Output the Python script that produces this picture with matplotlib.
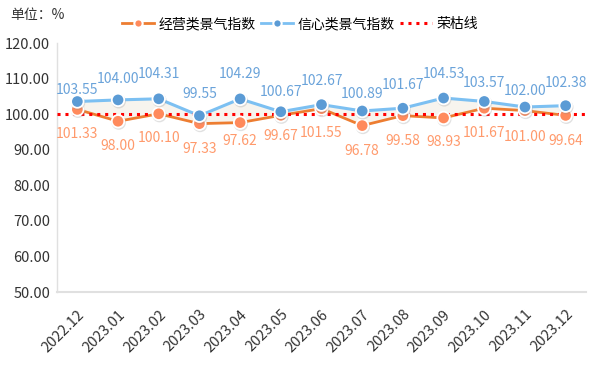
import matplotlib
matplotlib.use("Agg")
import matplotlib.pyplot as plt
import matplotlib.patheffects as pe
from matplotlib.lines import Line2D

plt.rcParams['font.family'] = ['Noto Sans CJK SC', 'DejaVu Sans']

months = ["2022.12", "2023.01", "2023.02", "2023.03", "2023.04", "2023.05", "2023.06",
          "2023.07", "2023.08", "2023.09", "2023.10", "2023.11", "2023.12"]
business = [101.33, 98.00, 100.10, 97.33, 97.62, 99.67, 101.55, 96.78, 99.58, 98.93, 101.67, 101.00, 99.64]
confidence = [103.55, 104.00, 104.31, 99.55, 104.29, 100.67, 102.67, 100.89, 101.67, 104.53, 103.57, 102.00, 102.38]
boom_line = 100
yticks = [50, 60, 70, 80, 90, 100, 110, 120]

# label offsets (in points, label centre relative to marker) mimicking the staggered layout
blue_off = [8.4, 15, 18, 15.5, 18, 14, 17, 12, 17, 17, 13, 11.5, 16]
orange_off = [-18, -18, -17.5, -18.5, -13, -15, -17.5, -18, -18.5, -17.5, -18, -19, -18.5]

fig = plt.figure(figsize=(6, 3.7), dpi=100)
ax = fig.add_axes([57/600, 1-292/370, 529/600, 249/370])

x = list(range(len(months)))
c_or_line = "#ED7D31"
c_or_mark = "#FF8A5C"
c_or_text = "#FF9A6C"
c_bl_line = "#7CC0F2"
c_bl_mark = "#5B9BD5"
c_bl_text = "#6AA3DA"

shadow = [pe.SimpleLineShadow(offset=(0.5, -1), alpha=0.25, shadow_color="#888888"), pe.Normal()]

ax.fill_between(x, business, confidence, color="#F3EEE4", alpha=0.6, zorder=1, linewidth=0)
ax.axhline(boom_line, color="#FF0000", linestyle=(0, (1, 1.6)), linewidth=2.2, zorder=4)
ax.plot(x, business, color=c_or_line, linewidth=2, zorder=2)
ax.plot(x, confidence, color=c_bl_line, linewidth=2.2, zorder=3)
ax.plot(x, business, linestyle="none", marker="o", markersize=9, markerfacecolor=c_or_mark,
        markeredgecolor="white", markeredgewidth=1.3, zorder=5, path_effects=shadow)
ax.plot(x, confidence, linestyle="none", marker="o", markersize=9, markerfacecolor=c_bl_mark,
        markeredgecolor="white", markeredgewidth=1.3, zorder=6, path_effects=shadow)

for i in x:
    ax.annotate(f"{confidence[i]:.2f}", (i, confidence[i]), xytext=(0, blue_off[i]),
                textcoords="offset points", ha="center", va="center", fontsize=10,
                color=c_bl_text, zorder=7)
    ax.annotate(f"{business[i]:.2f}", (i, business[i]), xytext=(0, orange_off[i]),
                textcoords="offset points", ha="center", va="center", fontsize=10,
                color=c_or_text, zorder=7)

ax.set_xlim(-0.5, len(months) - 0.5)
ax.set_ylim(50, 120)
ax.set_yticks(yticks)
ax.set_yticklabels([f"{v:.2f}" for v in yticks], fontsize=10.5, color="#333333")
ax.set_xticks(x)
ax.set_xticklabels(months, rotation=45, ha="right", rotation_mode="anchor", fontsize=10.5, color="#333333")
ax.tick_params(axis="y", length=0, pad=5)
ax.tick_params(axis="x", length=0, pad=11)
for s in ["top", "right"]:
    ax.spines[s].set_visible(False)
ax.spines["left"].set_color("#E0E0E0")
ax.spines["bottom"].set_color("#E0E0E0")
ax.spines["left"].set_linewidth(1)
ax.spines["bottom"].set_linewidth(1.5)

fig.text(10/600, 1-15/370, "单位：%", fontsize=10, color="#333333", va="center")

handles = [
    Line2D([0], [0], color=c_or_line, linewidth=2, marker="o", markersize=6,
           markerfacecolor=c_or_mark, markeredgecolor="white", markeredgewidth=1.5),
    Line2D([0], [0], color=c_bl_line, linewidth=2, marker="o", markersize=6,
           markerfacecolor=c_bl_mark, markeredgecolor="white", markeredgewidth=1.5),
    Line2D([0], [0], color="#FF0000", linewidth=2.2, linestyle=(0, (1, 1.6))),
]
fig.legend(handles, ["经营类景气指数", "信心类景气指数", "荣枯线"], loc="center",
           bbox_to_anchor=(300/600, 1-24/370), ncol=3, frameon=False, fontsize=10,
           handlelength=2.3, handletextpad=0.36, columnspacing=0.36)

fig.savefig("out.png", dpi=100)
